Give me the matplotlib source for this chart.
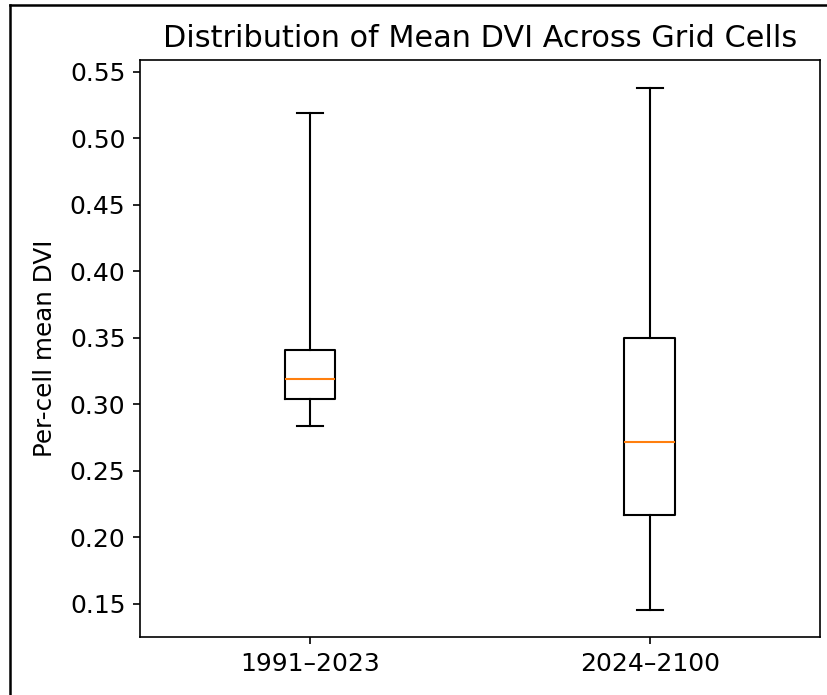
import matplotlib
matplotlib.use("Agg")
import matplotlib.pyplot as plt
from matplotlib.lines import Line2D

periods = ["1991–2023", "2024–2100"]
whislo = [0.284, 0.145]
q1 = [0.304, 0.217]
med = [0.319, 0.272]
q3 = [0.341, 0.350]
whishi = [0.519, 0.538]

stats = []
for i in range(len(periods)):
    stats.append({"label": periods[i], "whislo": whislo[i], "q1": q1[i],
                  "med": med[i], "q3": q3[i], "whishi": whishi[i], "fliers": []})

fig = plt.figure(figsize=(827 / 150, 695 / 150), dpi=150)
ax = fig.add_axes([0.1693, 0.0835, 0.8222, 0.8302])
ax.bxp(stats, positions=[1, 2], widths=0.15, showfliers=False)
ax.set_xlim(0.5, 2.5)
ax.set_ylim(0.125, 0.559)
ax.set_yticks([0.15, 0.20, 0.25, 0.30, 0.35, 0.40, 0.45, 0.50, 0.55])
ax.tick_params(axis="y", labelsize=12)
ax.tick_params(axis="x", labelsize=12)
ax.set_ylabel("Per-cell mean DVI", fontsize=11.8, labelpad=6)
ax.set_title("Distribution of Mean DVI Across Grid Cells", fontsize=14.5)

# black frame along the top and left edges
fig.add_artist(Line2D([0.012, 1.0], [0.993, 0.993], transform=fig.transFigure, color="black", lw=1.2))
fig.add_artist(Line2D([0.012, 0.012], [0.0, 0.993], transform=fig.transFigure, color="black", lw=1.2))

fig.savefig("out.png", dpi=150)
